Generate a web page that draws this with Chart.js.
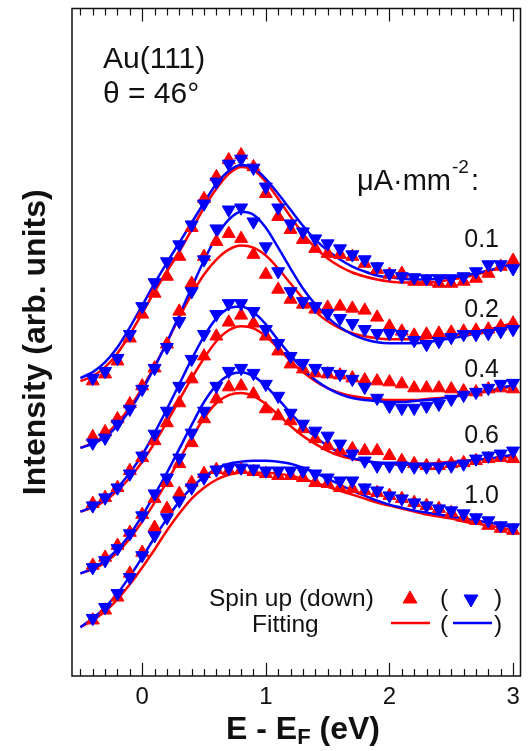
<!DOCTYPE html>
<html>
<head>
<meta charset="utf-8">
<script src="https://cdn.jsdelivr.net/npm/chart.js@4.4.0/dist/chart.umd.min.js"></script>
<style>
html,body{margin:0;padding:0;background:#fff;}
#wrap{width:529px;height:751px;position:relative;}
</style>
</head>
<body>
<div id="wrap"><canvas id="c"></canvas></div>
<script>
// ---------------- DATA ----------------
const energyPoints = [-0.4,-0.3,-0.2,-0.1,0.0,0.1,0.2,0.3,0.4,0.5,0.6,0.7,0.8,0.9,1.0,1.1,1.2,1.3,1.4,1.5,1.6,1.7,1.8,1.9,2.0,2.1,2.2,2.3,2.4,2.5,2.6,2.7,2.8,2.9,3.0];
const energyFit = [-0.5,-0.4,-0.3,-0.2,-0.1,0.0,0.1,0.2,0.3,0.4,0.5,0.6,0.7,0.8,0.9,1.0,1.1,1.2,1.3,1.4,1.5,1.6,1.7,1.8,1.9,2.0,2.1,2.2,2.3,2.4,2.5,2.6,2.7,2.8,2.9,3.0];
const xTickValues = [0, 1, 2, 3];
const currentLabels = ['0.1', '0.2', '0.4', '0.6', '1.0'];

// 0.1 uA/mm^2
const spinUp01   = [320,327,340,363,387,408,425,445,474,503,525,542,547,535,508,485,472,462,453,448,447,445,438,432,427,428,420,420,418,418,420,423,428,435,441];
const spinDown01 = [323,330,343,367,395,419,440,457,477,498,520,538,543,534,515,494,478,470,463,458,453,447,442,435,428,425,424,423,423,423,425,430,437,437,433];
const fitUp01    = [320,325,334,348,367,388,410,430,450,472,494,513,528,535,532,520,503,485,468,454,443,435,429,425,422,420,419,419,419,420,422,424,427,430,434,438];
const fitDown01  = [323,329,339,354,374,396,418,439,459,479,499,518,531,537,534,523,508,492,476,462,451,442,435,430,426,424,423,422,422,423,424,426,428,431,434,437];
// 0.2
const spinUp02   = [264,269,282,297,315,333,357,390,418,445,460,468,463,447,427,412,402,397,392,394,395,393,391,384,375,370,366,367,368,369,370,371,372,375,378];
const spinDown02 = [258,263,277,292,312,333,354,380,410,442,473,492,494,480,455,430,410,400,395,388,383,378,372,368,368,367,361,357,360,364,367,367,368,370,372];
const fitUp02    = [253,258,266,278,294,313,335,359,384,407,427,442,452,456,454,446,433,418,403,390,380,373,368,365,363,362,362,362,363,364,366,368,370,372,375,378];
const fitDown02  = [253,257,264,275,291,311,334,359,386,414,441,465,482,490,487,474,454,433,413,397,384,374,367,362,359,358,358,358,359,361,363,365,368,370,373,376];
// 0.4
const spinUp04   = [197,203,213,230,243,260,278,298,322,345,365,379,386,378,365,350,337,332,328,327,326,323,321,320,319,317,313,313,313,312,310,309,312,313,312];
const spinDown04 = [195,203,213,227,245,267,290,315,342,367,387,398,398,390,372,358,345,338,333,330,327,322,314,303,295,293,293,295,297,302,306,309,313,317,318];
const fitUp04    = [189,193,200,210,223,239,258,279,301,323,343,360,371,375,373,365,353,340,329,320,313,308,305,303,302,301,301,301,302,303,304,306,308,310,312,315];
const fitDown04  = [189,194,202,213,228,246,268,292,317,342,365,383,393,395,389,377,361,346,332,321,313,307,303,301,300,299,299,300,301,302,304,306,308,310,313,316];
// 0.6
const spinUp06   = [135,143,155,168,186,202,218,237,258,282,302,314,315,307,292,285,280,272,262,255,250,252,250,250,245,240,237,235,235,237,238,240,242,243,242];
const spinDown06 = [133,140,152,167,185,207,223,243,268,290,315,330,333,328,317,305,288,277,270,265,257,247,240,235,235,235,234,234,234,235,237,242,245,247,250];
const fitUp06    = [127,131,138,148,162,179,198,219,241,263,283,298,306,308,305,297,286,275,265,257,250,245,242,240,238,237,237,237,237,238,239,240,241,242,243,244];
const fitDown06  = [127,132,140,151,166,185,206,228,252,276,299,316,326,329,325,315,302,288,275,264,255,248,243,240,238,237,236,236,236,237,238,239,241,242,244,246];
// 1.0
const spinUp10   = [80,90,103,127,148,173,192,207,218,227,231,230,231,229,227,225,225,223,218,217,213,212,210,208,205,202,198,195,192,188,183,180,175,172,170];
const spinDown10 = [82,93,107,123,145,165,183,200,213,223,231,233,233,232,230,230,230,230,227,223,220,220,213,210,205,202,198,195,192,190,187,183,180,175,173];
const fitUp10    = [73,80,89,101,116,133,151,170,187,202,213,221,226,228,228,228,227,225,222,218,214,210,206,202,198,195,192,189,186,184,182,179,177,175,173,170];
const fitDown10  = [73,82,93,107,124,143,163,182,199,213,224,232,237,239,240,240,239,237,233,228,222,216,210,205,200,196,193,190,188,186,184,182,180,178,176,173];

// ---------------- STYLE / LAYOUT ----------------
const RED = '#ff0000';
const BLUE = '#0000ff';
const INK = '#111111';
const FONT = "'Liberation Sans', Arial, Helvetica, sans-serif";
const X_MIN = -0.568, X_MAX = 3.06;
const Y_MIN = 24, Y_MAX = 694;
const labelBaselines = [247, 317, 377, 443, 503];

const curves = [
  {up: spinUp01, down: spinDown01, fu: fitUp01, fd: fitDown01},
  {up: spinUp02, down: spinDown02, fu: fitUp02, fd: fitDown02},
  {up: spinUp04, down: spinDown04, fu: fitUp04, fd: fitDown04},
  {up: spinUp06, down: spinDown06, fu: fitUp06, fd: fitDown06},
  {up: spinUp10, down: spinDown10, fu: fitUp10, fd: fitDown10}
];

function toXY(xs, ys) { return ys.map((y, i) => ({x: xs[i], y: y})); }

const datasets = [];
curves.forEach(c => {
  datasets.push({data: toXY(energyPoints, c.down), showLine: false, pointStyle: 'triangle', rotation: 180,
    pointRadius: 7.5, backgroundColor: BLUE, borderColor: BLUE, borderWidth: 1, order: 0});
  datasets.push({data: toXY(energyPoints, c.up), showLine: false, pointStyle: 'triangle', rotation: 0,
    pointRadius: 7.5, backgroundColor: RED, borderColor: RED, borderWidth: 1, order: 1});
  datasets.push({data: toXY(energyFit, c.fd), showLine: true, pointRadius: 0, borderColor: BLUE,
    borderWidth: 2.5, cubicInterpolationMode: 'monotone', fill: false, order: 2});
  datasets.push({data: toXY(energyFit, c.fu), showLine: true, pointRadius: 0, borderColor: RED,
    borderWidth: 2.5, cubicInterpolationMode: 'monotone', fill: false, order: 3});
});

const decor = {
  id: 'decor',
  afterDraw(chart) {
    const ctx = chart.ctx, ca = chart.chartArea, xs = chart.scales.x;
    ctx.save();
    // frame
    ctx.strokeStyle = INK; ctx.lineWidth = 1.5;
    ctx.strokeRect(ca.left, ca.top, ca.right - ca.left, ca.bottom - ca.top);
    // ticks top & bottom (inward)
    ctx.lineWidth = 1.2;
    ctx.beginPath();
    for (let k = -5; k <= 30; k++) {
      const v = k / 10;
      const px = Math.round(xs.getPixelForValue(v)) + 0.5;
      const len = (k % 10 === 0) ? 13 : 7;
      ctx.moveTo(px, ca.bottom); ctx.lineTo(px, ca.bottom - len);
      ctx.moveTo(px, ca.top); ctx.lineTo(px, ca.top + len);
    }
    ctx.stroke();
    // tick labels
    ctx.fillStyle = INK;
    ctx.font = '24px ' + FONT;
    ctx.textAlign = 'center'; ctx.textBaseline = 'alphabetic';
    xTickValues.forEach(v => ctx.fillText(String(v), xs.getPixelForValue(v), 704));
    // x title  E - E_F (eV)
    const big = 'bold 32px ' + FONT, sub = 'bold 22px ' + FONT;
    ctx.textAlign = 'left';
    ctx.font = big; const w1 = ctx.measureText('E - E').width; const w3 = ctx.measureText(' (eV)').width;
    ctx.font = sub; const w2 = ctx.measureText('F').width;
    let tx = 303 - (w1 + w2 + w3) / 2;
    ctx.font = big; ctx.fillText('E - E', tx, 739); tx += w1;
    ctx.font = sub; ctx.fillText('F', tx, 744); tx += w2;
    ctx.font = big; ctx.fillText(' (eV)', tx, 739);
    // y title
    ctx.save();
    ctx.translate(45, (ca.top + ca.bottom) / 2);
    ctx.rotate(-Math.PI / 2);
    ctx.textAlign = 'center';
    ctx.font = 'bold 32px ' + FONT;
    ctx.fillText('Intensity (arb. units)', 0, 0);
    ctx.restore();
    // sample annotation
    ctx.textAlign = 'left';
    ctx.font = '30px ' + FONT;
    ctx.fillText('Au(111)', 103, 68);
    ctx.fillText('\u03B8 = 46\u00B0', 103, 103);
    // unit header
    let ux = 357;
    ctx.font = '29px ' + FONT;
    ctx.fillText('\u03BCA\u00B7mm', ux, 190); ux += ctx.measureText('\u03BCA\u00B7mm').width + 1;
    ctx.font = '19px ' + FONT;
    ctx.fillText('-2', ux, 173); ux += ctx.measureText('-2').width + 2;
    ctx.font = '29px ' + FONT;
    ctx.fillText(':', ux, 190);
    // current labels
    ctx.textAlign = 'right';
    ctx.font = '25px ' + FONT;
    currentLabels.forEach((t, i) => ctx.fillText(t, 499, labelBaselines[i]));
    // legend text
    ctx.textAlign = 'left';
    ctx.font = '24.5px ' + FONT;
    ctx.fillText('Spin up (down)', 209, 606);
    ctx.fillText('Fitting', 252, 632);
    ctx.fillText('(', 440, 606);
    ctx.fillText(')', 494, 606);
    ctx.fillText('(', 440, 632);
    ctx.fillText(')', 494, 632);
    ctx.restore();
  }
};

const legendMarks = {
  id: 'legendMarks',
  afterDraw(chart) {
    const ctx = chart.ctx;
    ctx.save();
    ctx.fillStyle = RED; ctx.strokeStyle = RED; ctx.lineWidth = 1;
    Chart.helpers.drawPoint(ctx, {pointStyle: 'triangle', radius: 8, rotation: 0, borderWidth: 1}, 410, 599);
    ctx.fillStyle = BLUE; ctx.strokeStyle = BLUE;
    Chart.helpers.drawPoint(ctx, {pointStyle: 'triangle', radius: 8, rotation: 180, borderWidth: 1}, 471, 599);
    ctx.lineWidth = 2.5;
    ctx.strokeStyle = RED;
    ctx.beginPath(); ctx.moveTo(391, 623); ctx.lineTo(430, 623); ctx.stroke();
    ctx.strokeStyle = BLUE;
    ctx.beginPath(); ctx.moveTo(453, 623); ctx.lineTo(492, 623); ctx.stroke();
    ctx.restore();
  }
};

new Chart(document.getElementById('c'), {
  type: 'scatter',
  data: {datasets: datasets},
  options: {
    responsive: true,
    maintainAspectRatio: false,
    animation: false,
    layout: {padding: {left: 72, right: 4, top: 6, bottom: 75}},
    plugins: {legend: {display: false}, tooltip: {enabled: false}},
    scales: {
      x: {type: 'linear', min: X_MIN, max: X_MAX, display: false},
      y: {type: 'linear', min: Y_MIN, max: Y_MAX, display: false}
    }
  },
  plugins: [decor, legendMarks]
});
</script>
</body>
</html>
